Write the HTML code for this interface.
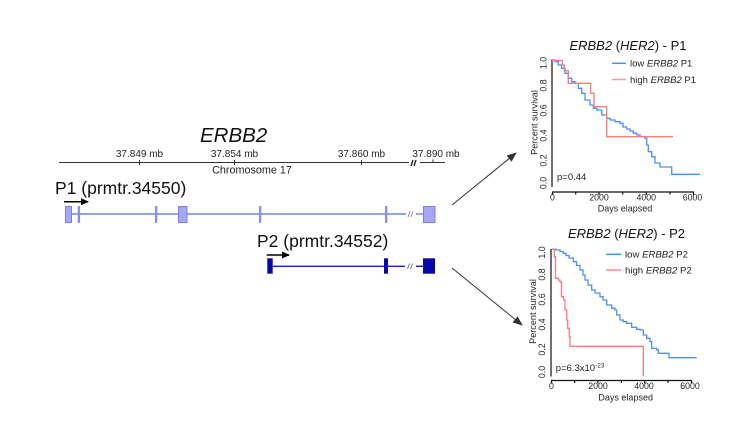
<!DOCTYPE html>
<html>
<head>
<meta charset="utf-8">
<style>
  html,body{margin:0;padding:0;background:#fff;}
  svg{display:block;}
  text{font-family:"Liberation Sans",sans-serif;}
</style>
</head>
<body>
<svg width="748" height="426" viewBox="0 0 748 426" xmlns="http://www.w3.org/2000/svg">
  <defs>
    <marker id="ah" markerWidth="10" markerHeight="8" refX="9" refY="4" orient="auto" markerUnits="userSpaceOnUse">
      <path d="M0,0 L10,4 L0,8 Z" fill="#333"/>
    </marker>
    <marker id="ahb" markerWidth="8" markerHeight="7" refX="7" refY="3.5" orient="auto" markerUnits="userSpaceOnUse">
      <path d="M0,0 L8,3.5 L0,7 Z" fill="#000"/>
    </marker>
  </defs>

  <!-- Gene title -->
  <text x="200" y="142" font-size="20.5" font-style="italic" fill="#111">ERBB2</text>

  <!-- Chromosome axis -->
  <g stroke="#333" stroke-width="1" fill="none">
    <line x1="59" y1="162.5" x2="409" y2="162.5"/>
    <line x1="420" y1="162.5" x2="445" y2="162.5"/>
    <line x1="139.5" y1="160" x2="139.5" y2="165"/>
    <line x1="234.5" y1="160" x2="234.5" y2="165"/>
    <line x1="361.5" y1="160" x2="361.5" y2="165"/>
    <line x1="433" y1="159.5" x2="433" y2="163"/>
  </g>
  <g stroke="#111" stroke-width="1.3">
    <line x1="411" y1="166" x2="413" y2="160"/>
    <line x1="414" y1="166" x2="416" y2="160"/>
  </g>
  <g font-size="10" fill="#222" text-anchor="middle">
    <text x="139.5" y="157">37.849 mb</text>
    <text x="234.5" y="157">37.854 mb</text>
    <text x="361.5" y="157">37.860 mb</text>
    <text x="436" y="157">37.890 mb</text>
  </g>
  <text x="252" y="173.5" font-size="10.8" fill="#222" text-anchor="middle">Chromosome 17</text>

  <!-- P1 -->
  <text x="55" y="194" font-size="17.5" fill="#111">P1 (prmtr.34550)</text>
  <line x1="64" y1="201.7" x2="88" y2="201.7" stroke="#000" stroke-width="1.5" marker-end="url(#ahb)"/>
  <line x1="65" y1="214" x2="406" y2="214" stroke="#6f86d8" stroke-width="1.4"/>
  <line x1="416" y1="214" x2="423" y2="214" stroke="#6f86d8" stroke-width="1.4"/>
  <g stroke="#7b86c8" stroke-width="0.9">
    <line x1="408" y1="217" x2="410" y2="211"/>
    <line x1="411" y1="217" x2="413" y2="211"/>
  </g>
  <g fill="#a7a7f7" stroke="#7c7cec" stroke-width="1">
    <rect x="65.5" y="206.5" width="6" height="16"/>
    <rect x="178.5" y="206.5" width="8.5" height="16"/>
    <rect x="423.5" y="206.5" width="11.5" height="16"/>
  </g>
  <g fill="#8b8bf0">
    <rect x="77.7" y="206" width="2.4" height="17"/>
    <rect x="155" y="206" width="2.3" height="17"/>
    <rect x="259" y="206" width="2.3" height="17"/>
    <rect x="385" y="206" width="2.3" height="17"/>
  </g>

  <!-- P2 -->
  <text x="257" y="247" font-size="17.5" fill="#111">P2 (prmtr.34552)</text>
  <line x1="266.7" y1="255" x2="289" y2="255" stroke="#000" stroke-width="1.5" marker-end="url(#ahb)"/>
  <line x1="270" y1="266.3" x2="405" y2="266.3" stroke="#1a1ad0" stroke-width="1.4"/>
  <line x1="416" y1="266.3" x2="423" y2="266.3" stroke="#1a1ad0" stroke-width="1.4"/>
  <g stroke="#6a6a9a" stroke-width="0.9">
    <line x1="407.5" y1="269" x2="409.5" y2="263.5"/>
    <line x1="410.5" y1="269" x2="412.5" y2="263.5"/>
  </g>
  <g fill="#0808a8">
    <rect x="267.3" y="258.3" width="5.4" height="15.4"/>
    <rect x="384" y="258.3" width="4" height="15.4"/>
    <rect x="423" y="258.3" width="12" height="15.4"/>
  </g>

  <!-- diagonal arrows -->
  <line x1="452" y1="205" x2="516" y2="153" stroke="#333" stroke-width="1" marker-end="url(#ah)"/>
  <line x1="452" y1="268" x2="522" y2="325" stroke="#333" stroke-width="1" marker-end="url(#ah)"/>

  <!-- ===== Plot 1 ===== -->
  <text x="628" y="50" font-size="13" fill="#111" text-anchor="middle"><tspan font-style="italic">ERBB2</tspan> (<tspan font-style="italic">HER2</tspan>) - P1</text>
  <g stroke="#111" stroke-width="1.2" fill="none">
    <line x1="552" y1="59.5" x2="552" y2="187"/>
    <line x1="552" y1="192" x2="694" y2="192"/>
    <line x1="552.5" y1="192" x2="552.5" y2="195"/>
    <line x1="575.7" y1="192" x2="575.7" y2="194.5"/>
    <line x1="599" y1="192" x2="599" y2="195"/>
    <line x1="622.7" y1="192" x2="622.7" y2="194.5"/>
    <line x1="646.3" y1="192" x2="646.3" y2="195"/>
    <line x1="670" y1="192" x2="670" y2="194.5"/>
    <line x1="693.5" y1="192" x2="693.5" y2="195"/>
  </g>
  <g font-size="8.8" fill="#222" text-anchor="middle">
    <text x="552.5" y="200.5">0</text>
    <text x="599" y="200.5">2000</text>
    <text x="646.3" y="200.5">4000</text>
    <text x="692.5" y="200.5">6000</text>
  </g>
  <text x="625" y="211.5" font-size="9" fill="#222" text-anchor="middle">Days elapsed</text>
  <g font-size="8.8" fill="#222" text-anchor="middle">
    <text transform="translate(546.5,63) rotate(-90)">1.0</text>
    <text transform="translate(546.5,85.5) rotate(-90)">0.8</text>
    <text transform="translate(546.5,110.5) rotate(-90)">0.6</text>
    <text transform="translate(546.5,135.5) rotate(-90)">0.4</text>
    <text transform="translate(546.5,160.5) rotate(-90)">0.2</text>
    <text transform="translate(546.5,183) rotate(-90)">0.0</text>
  </g>
  <text transform="translate(537.5,122.5) rotate(-90)" font-size="9.1" fill="#222" text-anchor="middle">Percent survival</text>
  <text x="557" y="180" font-size="9.5" fill="#222">p=0.44</text>
  <path d="M552,60 H555 V61.7 H558.3 V65 H561.7 V68.3 H565 V73.3 H568.3 V78.3 H571.7 V81.7 H575 V83.3 H578.3 V88.3 H581.7 V93.3 H585 V100 H590 V105 H593.3 V108.3 H596.7 V110 H601.7 V115 H606.7 V118.3 H610 V120 H615 V121.7 H620 V123.3 H623 V127 H626.7 V129 H630 V131 H633.3 V133.3 H637 V135 H640 V136.5 H645 V138.3 H646.7 V145 H648.3 V151.7 H651.7 V156.7 H655 V163 H660 V167 H671.7 V174.3 H700" fill="none" stroke="#4d8ef5" stroke-width="1.3"/>
  <path d="M552,60.5 H562.3 V65 H564.3 V70.7 H568.3 V83.3 H590.7 V93.3 H594 V106.7 H606.7 V136.7 H673" fill="none" stroke="#f77b7b" stroke-width="1.3"/>
  <line x1="612" y1="63.3" x2="626" y2="63.3" stroke="#4d8ef5" stroke-width="1.5"/>
  <line x1="612" y1="79.5" x2="626" y2="79.5" stroke="#f99" stroke-width="1.5"/>
  <text x="630" y="66.5" font-size="9.5" fill="#222">low <tspan font-style="italic">ERBB2</tspan> P1</text>
  <text x="630" y="83" font-size="9.5" fill="#222">high <tspan font-style="italic">ERBB2</tspan> P1</text>

  <!-- ===== Plot 2 ===== -->
  <text x="626.5" y="238" font-size="13" fill="#111" text-anchor="middle"><tspan font-style="italic">ERBB2</tspan> (<tspan font-style="italic">HER2</tspan>) - P2</text>
  <g stroke="#111" stroke-width="1.2" fill="none">
    <line x1="551" y1="249" x2="551" y2="376.5"/>
    <line x1="551" y1="380.5" x2="692" y2="380.5"/>
    <line x1="551.5" y1="380.5" x2="551.5" y2="383.5"/>
    <line x1="574.7" y1="380.5" x2="574.7" y2="383"/>
    <line x1="598" y1="380.5" x2="598" y2="383.5"/>
    <line x1="621.3" y1="380.5" x2="621.3" y2="383"/>
    <line x1="644.7" y1="380.5" x2="644.7" y2="383.5"/>
    <line x1="668" y1="380.5" x2="668" y2="383"/>
    <line x1="691.5" y1="380.5" x2="691.5" y2="383.5"/>
  </g>
  <g font-size="8.8" fill="#222" text-anchor="middle">
    <text x="551.5" y="389">0</text>
    <text x="598" y="389">2000</text>
    <text x="644" y="389">4000</text>
    <text x="690" y="389">6000</text>
  </g>
  <text x="625.7" y="400.5" font-size="9" fill="#222" text-anchor="middle">Days elapsed</text>
  <g font-size="8.8" fill="#222" text-anchor="middle">
    <text transform="translate(545,252.5) rotate(-90)">1.0</text>
    <text transform="translate(545,274.5) rotate(-90)">0.8</text>
    <text transform="translate(545,299.5) rotate(-90)">0.6</text>
    <text transform="translate(545,324.5) rotate(-90)">0.4</text>
    <text transform="translate(545,349.5) rotate(-90)">0.2</text>
    <text transform="translate(545,372) rotate(-90)">0.0</text>
  </g>
  <text transform="translate(536,311.5) rotate(-90)" font-size="9.1" fill="#222" text-anchor="middle">Percent survival</text>
  <text x="555.7" y="371" font-size="9.5" fill="#222">p=6.3x10<tspan font-size="6.5" dy="-3.5">-23</tspan></text>
  <path d="M551.7,249.3 H556 V250 H560 V251.5 H563.3 V253.3 H566 V255.5 H569 V258 H573.3 V261.7 H576.5 V265.5 H580 V270 H583 V275 H585 V280 H588 V285 H591.7 V290 H595 V293 H600 V296.7 H603 V300 H606.7 V305 H611.7 V308.3 H615 V310 H616.7 V315 H620 V320 H623.3 V321.7 H626.7 V323.3 H631.7 V327.3 H636.7 V329.3 H640 V330 H643.3 V335 H646.7 V338.3 H650 V341.7 H651.7 V348.3 H656.7 V350 H658.3 V353.3 H669 V357.7 H696.7" fill="none" stroke="#4d8ef5" stroke-width="1.3"/>
  <path d="M551.7,249.3 H554.3 V256.7 H555.5 V278.3 H558.3 V280 H560 V282 H561.5 V296.7 H563.5 V300 H565 V310 H566.7 V320 H567.7 V328.3 H569.3 V336.7 H570 V346.3 H643.3 V376" fill="none" stroke="#f77b7b" stroke-width="1.3"/>
  <line x1="606" y1="254.3" x2="621" y2="254.3" stroke="#4d8ef5" stroke-width="1.5"/>
  <line x1="606" y1="270" x2="621" y2="270" stroke="#f88" stroke-width="1.5"/>
  <text x="625" y="257.5" font-size="9.6" fill="#222">low <tspan font-style="italic">ERBB2</tspan> P2</text>
  <text x="625" y="273.5" font-size="9.6" fill="#222">high <tspan font-style="italic">ERBB2</tspan> P2</text>
</svg>
</body>
</html>
